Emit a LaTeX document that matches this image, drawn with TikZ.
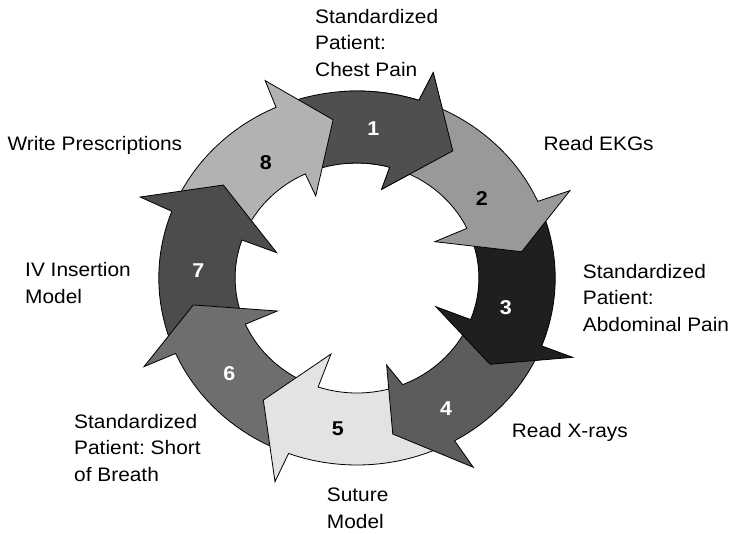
\documentclass[tikz,border=0pt]{standalone}
\usepackage{fontspec}
\setmainfont{Liberation Sans}

% fills of the eight ring segments
\definecolor{segone}{gray}{0.31}
\definecolor{segtwo}{gray}{0.60}
\definecolor{segthree}{gray}{0.12}
\definecolor{segfour}{gray}{0.36}
\definecolor{segfive}{gray}{0.89}
\definecolor{segsix}{gray}{0.43}
\definecolor{segseven}{gray}{0.30}
\definecolor{segeight}{gray}{0.70}

% one curved arrow of the ring:
% #1/#2 tail angle on outer/inner rim, #3/#4 head base angle on outer/inner rim,
% #5 outer barb, #6 tip, #7 inner barb (polar points), #8 fill
\newcommand\ringseg[8]{%
  \path[seg, fill=#8] (#1:187) arc[start angle=#1, end angle=#3, radius=187]
    -- (#5) -- (#6) -- (#7) -- (#4:115)
    arc[start angle=#4, end angle=#2, radius=115] -- cycle;}

\begin{document}
\begin{tikzpicture}[x=1pt, y=1pt,
  seg/.style={draw=black, line width=0.8pt, line join=miter, miter limit=20},
  num/.style={font=\fontsize{20}{20}\selectfont\bfseries, xscale=1.07, inner sep=0pt},
  lbl/.style={font=\fontsize{19.5}{26.5}\selectfont\frenchspacing, align=left,
              anchor=base west, inner sep=0pt, xscale=1.07}]
\useasboundingbox (0,0) rectangle (730,-533);

\begin{scope}[shift={(357,-278)}, xscale=1.06]
  % segment 1 first, so that segment 8 overlaps its tail
  \ringseg{111.1}{112.1}{71.8}{74.4}{70.7:217.6}{54.6:156}{75.3:91.7}{segone}
  \ringseg{156.1}{157.7}{114.1}{115.1}{113.7:215.6}{98.1:159.8}{115.4:90.8}{segeight}
  \ringseg{200.8}{200.7}{159.1}{160.7}{158.4:220}{143.6:156.7}{161.5:79.9}{segseven}
  \ringseg{-113.2}{-111.6}{-156.2}{-156.3}{203.8:219.6}{189.9:156.8}{203.7:82.1}{segsix}
  \ringseg{-63.5}{-71}{-110.2}{-108.6}{-110.8:217.9}{-125.9:150.7}{-107.9:79.9}{segfive}
  \ringseg{-24.3}{-24.2}{-60.5}{-68}{-59.9:218.8}{-77.8:159.6}{-72.2:91.4}{segfour}
  \ringseg{21.2}{22.6}{-21.3}{-21.2}{-21.3:218.4}{-34.5:152.3}{-21.1:79.8}{segthree}
  \ringseg{68.8}{71.4}{24.2}{25.6}{23.5:219}{9.6:157.6}{26.3:82}{segtwo}
  % head of segment 1 again, on top of the tail of segment 2
  \begin{scope}
    \clip (0,0) -- (95:300) arc[start angle=95, end angle=30, radius=300] -- cycle;
    \ringseg{111.1}{112.1}{71.8}{74.4}{70.7:217.6}{54.6:156}{75.3:91.7}{segone}
  \end{scope}
\end{scope}

% step numbers
\node[num, text=white] (n1) at (373.3,-129) {1};
\node[num, text=black] (n2) at (481.7,-198.3) {2};
\node[num, text=white] (n3) at (505.7,-307.3) {3};
\node[num, text=white] (n4) at (446,-408.3) {4};
\node[num, text=black] (n5) at (337.7,-428.3) {5};
\node[num, text=white] (n6) at (229.3,-374) {6};
\node[num, text=white] (n7) at (198.3,-270.7) {7};
\node[num, text=black] (n8) at (265.7,-162.7) {8};

% station labels (base anchor sits on the last line)
\node[lbl] (l1) at (315,-76.3) {Standardized\\Patient:\\Chest Pain};
\node[lbl] (l2) at (543.3,-150) {Read EKGs};
\node[lbl] (l3) at (582.7,-331.3) {Standardized\\Patient:\\Abdominal Pain};
\node[lbl] (l4) at (511.7,-437.3) {Read X-rays};
\node[lbl] (l5) at (326.7,-528) {Suture\\Model};
\node[lbl] (l6) at (74,-481.3) {Standardized\\Patient: Short\\of Breath};
\node[lbl] (l7) at (25,-303.3) {IV Insertion\\Model};
\node[lbl] (l8) at (7.3,-150) {Write Prescriptions};
\end{tikzpicture}
\end{document}
